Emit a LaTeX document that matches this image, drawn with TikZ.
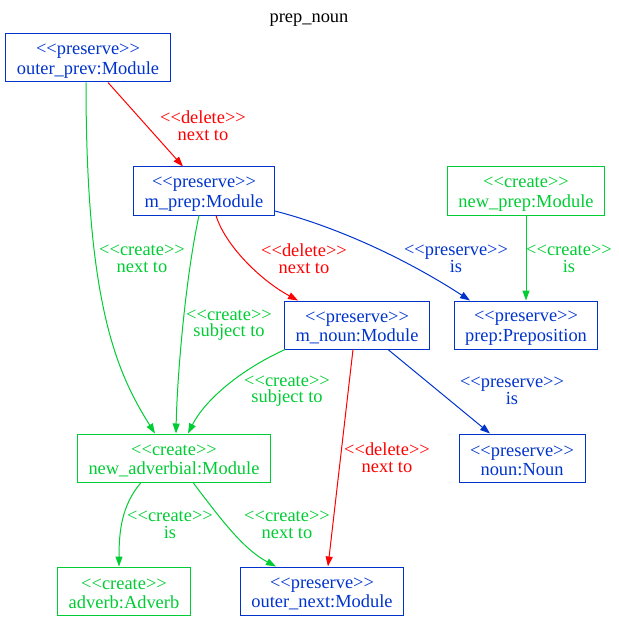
\documentclass[tikz,border=0pt]{standalone}
\usepackage{fontspec}
\setmainfont{Liberation Serif}
\usepackage{tikz}
\usetikzlibrary{arrows.meta}
\definecolor{gvBlue}{HTML}{0033CC}
\definecolor{gvGreen}{HTML}{00CC33}
\definecolor{gvRed}{HTML}{FF0000}
\newcommand\stereo[1]{<\kern0pt<#1>\kern0pt>}
\newcommand\objtext[2]{\rule{0pt}{17bp}\stereo{#1}\\#2}

\begin{document}
\begin{tikzpicture}[
    x=1bp,y=-1bp,
    font=\fontsize{18.5}{19.2}\selectfont,
    obj/.style={draw,line width=1bp,minimum height=48bp,inner xsep=11bp,inner ysep=2bp,align=center},
    pres/.style={obj,draw=gvBlue,text=gvBlue},
    crt/.style={obj,draw=gvGreen,text=gvGreen},
    elab/.style={align=center,inner sep=0pt,font=\fontsize{18.5}{16.7}\selectfont},
    ar/.style={-{Triangle[length=10bp,width=7bp]},line width=1bp}
  ]
    \useasboundingbox (0,0) rectangle (619,621);
    \node (title) at (309,20) {prep\_noun};

    \node[pres] (outer_prev) at (88,58)   {\objtext{preserve}{outer\_prev:Module}};
    \node[pres] (m_prep)     at (204,191) {\objtext{preserve}{m\_prep:Module}};
    \node[crt]  (new_prep)   at (526,191) {\objtext{create}{new\_prep:Module}};
    \node[pres] (m_noun)     at (357,325) {\objtext{preserve}{m\_noun:Module}};
    \node[pres] (prep)       at (526,325) {\objtext{preserve}{prep:Preposition}};
    \node[crt]  (new_adv)    at (174,458) {\objtext{create}{new\_adverbial:Module}};
    \node[pres] (noun)       at (522,458) {\objtext{preserve}{noun:Noun}};
    \node[crt]  (adverb)     at (124,591) {\objtext{create}{adverb:Adverb}};
    \node[pres] (outer_next) at (322,591) {\objtext{preserve}{outer\_next:Module}};

    \node[elab,text=gvRed]   (l_prevprep) at (203,126) {\stereo{delete}\\next to};
    \node[elab,text=gvGreen] (l_prevadv)  at (142,259) {\stereo{create}\\next to};
    \node[elab,text=gvRed]   (l_prepnoun) at (304,259) {\stereo{delete}\\next to};
    \node[elab,text=gvBlue]  (l_prepis)   at (456,259) {\stereo{preserve}\\is};
    \node[elab,text=gvGreen] (l_newis)    at (569,259) {\stereo{create}\\is};
    \node[elab,text=gvGreen] (l_prepsubj) at (229,325) {\stereo{create}\\subject to};
    \node[elab,text=gvGreen] (l_nounsubj) at (287,391) {\stereo{create}\\subject to};
    \node[elab,text=gvBlue]  (l_nounis)   at (512,391) {\stereo{preserve}\\is};
    \node[elab,text=gvRed]   (l_nounnext) at (387,458) {\stereo{delete}\\next to};
    \node[elab,text=gvGreen] (l_advis)    at (170,525) {\stereo{create}\\is};
    \node[elab,text=gvGreen] (l_advnext)  at (287,525) {\stereo{create}\\next to};

    \draw[ar,gvRed]   ([xshift=20bp]outer_prev.south) -- ([xshift=-21bp]m_prep.north);
    \draw[ar,gvGreen] ([xshift=-2bp]outer_prev.south) .. controls (86,300) and (115,370) .. ([xshift=-19bp]new_adv.north);
    \draw[ar,gvBlue]  ([yshift=-20bp]m_prep.east) .. controls (330,225) and (400,255) .. ([xshift=-56bp]prep.north);
    \draw[ar,gvRed]   ([xshift=12bp]m_prep.south) .. controls (225,245) and (260,280) .. ([xshift=-59bp]m_noun.north);
    \draw[ar,gvGreen] ([xshift=-5bp]m_prep.south) .. controls (185,280) and (177,380) .. ([xshift=2bp]new_adv.north);
    \draw[ar,gvGreen] (new_prep.south) -- (prep.north);
    \draw[ar,gvGreen] ([xshift=1bp]m_noun.south west) .. controls (240,370) and (205,400) .. ([xshift=14bp]new_adv.north);
    \draw[ar,gvBlue]  ([xshift=31bp]m_noun.south) -- ([xshift=-32bp]noun.north);
    \draw[ar,gvRed]   ([xshift=-4bp]m_noun.south) -- ([xshift=6bp]outer_next.north);
    \draw[ar,gvGreen] ([xshift=-33bp]new_adv.south) .. controls (122,505) and (119,530) .. ([xshift=-5bp]adverb.north);
    \draw[ar,gvGreen] ([xshift=19bp]new_adv.south) .. controls (225,525) and (245,550) .. ([xshift=-46bp]outer_next.north);
  \end{tikzpicture}
\end{document}
